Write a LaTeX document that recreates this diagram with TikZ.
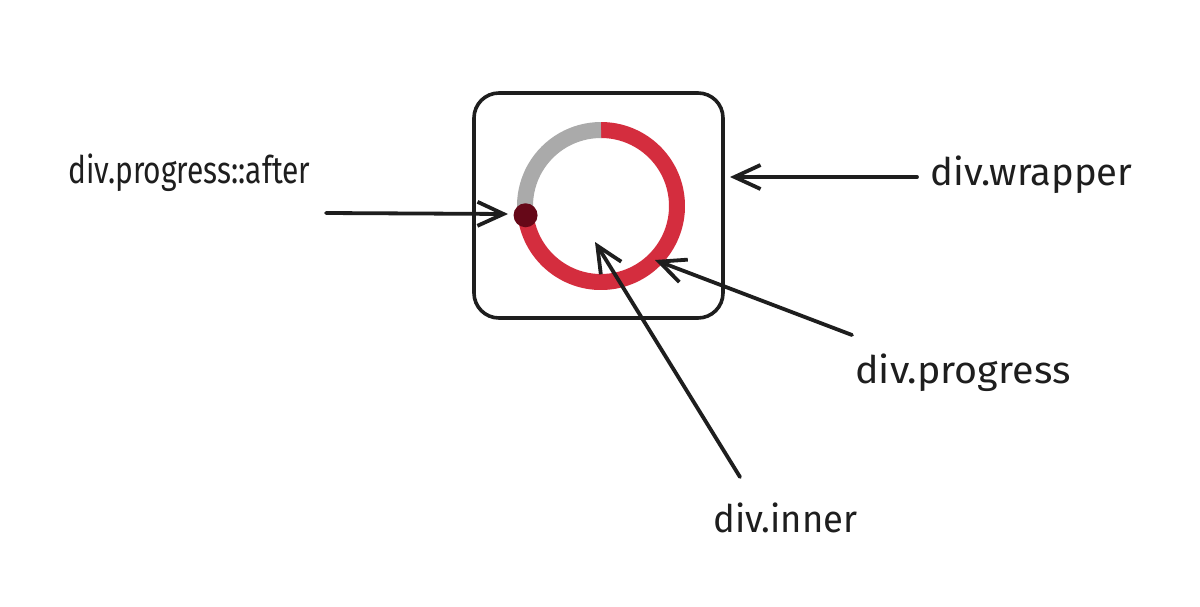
\documentclass[tikz,border=0pt]{standalone}
\usepackage{fontspec}
\setmainfont{Fira Sans}
\usetikzlibrary{arrows.meta}
\definecolor{ringred}{RGB}{212,45,62}
\definecolor{ringgray}{RGB}{170,170,170}
\definecolor{dotred}{RGB}{102,8,24}
\definecolor{ink}{RGB}{30,30,30}
\newcommand{\lblw}[2]{\resizebox{#1}{\height}{#2}}
\begin{document}
\begin{tikzpicture}[x=0.5pt,y=-0.5pt,
  lbl/.style={font=\fontsize{19}{22}\selectfont, inner sep=0pt, anchor=base west, text=ink},
  pointer/.style={draw=ink, line width=1.9pt, line cap=round,
    -{Straight Barb[length=13pt,width=12pt,line width=1.9pt]}},
  ring/.style={line width=8pt}]
\path[use as bounding box, fill=white] (0,0) rectangle (1200,606);
% wrapper box
\node[draw=ink, line width=1.8pt, rounded corners=12.5pt, minimum width=124.5pt,
  minimum height=112.5pt, inner sep=0pt] (wrapper) at (598.5,205.5) {};
% progress ring
\coordinate (c) at (601,206);
\draw[ring, ringred] (c) ++(-187:76) arc[start angle=-187, end angle=-450, radius=76];
\draw[ring, ringgray] (c) ++(-90:76) arc[start angle=-90, end angle=-187, radius=76];
\path (c) ++(-187:76) node[circle, fill=dotred, minimum size=12pt, inner sep=0pt] (after) {};
% labels
\node[lbl] (lafter) at (68,183) {\lblw{121pt}{div.progress::after}};
\node[lbl] (lwrapper) at (930,185) {\lblw{101pt}{div.wrapper}};
\node[lbl] (lprogress) at (855,383) {\lblw{107.5pt}{div.progress}};
\node[lbl] (linner) at (713,532) {\lblw{72pt}{div.inner}};
% arrow endpoints
\coordinate (a1s) at (326,213); \coordinate (a1e) at (508,214);
\coordinate (a2s) at (917,177); \coordinate (a2e) at (730,177);
\coordinate (a3s) at (852,335); \coordinate (a3e) at (655,260);
\coordinate (a4s) at (740,477); \coordinate (a4e) at (595,242);
\draw[pointer] (a1s) -- (a1e);
\draw[pointer] (a2s) -- (a2e);
\draw[pointer] (a3s) -- (a3e);
\draw[pointer] (a4s) -- (a4e);
\end{tikzpicture}
\end{document}
